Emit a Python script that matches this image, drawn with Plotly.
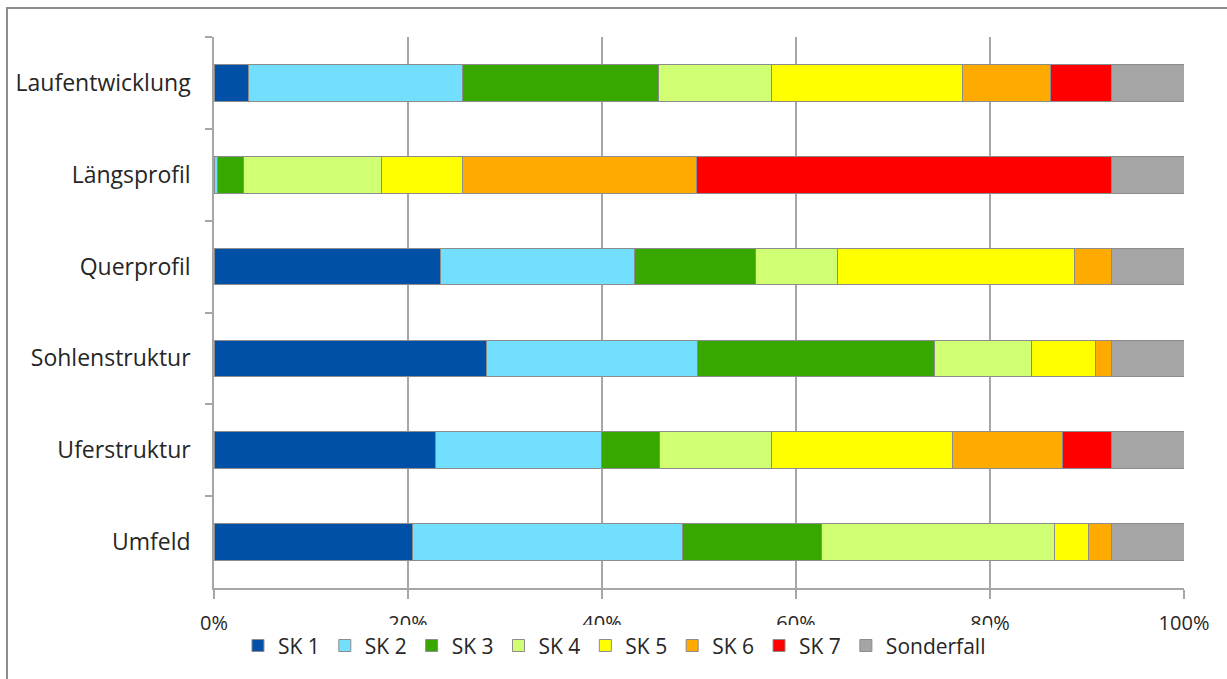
import plotly.graph_objects as go

categories = ["Laufentwicklung", "Längsprofil", "Querprofil", "Sohlenstruktur", "Uferstruktur", "Umfeld"]

series_names = ["SK 1", "SK 2", "SK 3", "SK 4", "SK 5", "SK 6", "SK 7", "Sonderfall"]

sk1 = [3.6, 0.0, 23.4, 28.1, 22.8, 20.5]
sk2 = [22.0, 0.35, 20.0, 21.7, 17.1, 27.8]
sk3 = [20.2, 2.65, 12.4, 24.5, 6.0, 14.3]
sk4 = [11.7, 14.3, 8.5, 10.0, 11.6, 24.0]
sk5 = [19.7, 8.3, 24.4, 6.6, 18.6, 3.6]
sk6 = [9.0, 24.1, 3.8, 1.6, 11.4, 2.3]
sk7 = [6.3, 42.8, 0.0, 0.0, 5.0, 0.0]
sonderfall = [7.5, 7.5, 7.5, 7.5, 7.5, 7.5]

series_values = [sk1, sk2, sk3, sk4, sk5, sk6, sk7, sonderfall]
series_colors = ["#0050A8", "#73DFFF", "#38A800", "#D1FF73", "#FFFF00", "#FFAA00", "#FF0000", "#A5A5A5"]

x_tick_values = [0, 20, 40, 60, 80, 100]
x_tick_labels = ["0%", "20%", "40%", "60%", "80%", "100%"]

FONT = "Open Sans"
GRID = "#A6A6A6"

fig = go.Figure()
for name, vals, col in zip(series_names, series_values, series_colors):
    fig.add_trace(go.Bar(
        y=categories, x=vals, name=name, orientation="h",
        marker=dict(color=col, line=dict(color="#8C8C8C", width=1)),
    ))

fig.update_layout(
    width=1227, height=679,
    barmode="stack", bargap=0.6,
    paper_bgcolor="white", plot_bgcolor="white",
    margin=dict(l=214, r=43, t=37, b=91),
    font=dict(family=FONT, size=20, color="#262626"),
    legend=dict(
        orientation="h", x=0.0247, y=-0.105, xanchor="left", yanchor="middle",
        font=dict(size=21), itemwidth=30, tracegroupgap=0,
        traceorder="normal",
    ),
    xaxis=dict(
        range=[0, 100], tickvals=x_tick_values, ticktext=x_tick_labels,
        showgrid=True, gridcolor=GRID, gridwidth=1.5,
        showline=True, linecolor=GRID, linewidth=1.5,
        ticks="outside", ticklen=9, tickcolor=GRID, tickwidth=1.5,
        ticklabelstandoff=7, zeroline=False, fixedrange=True,
        tickfont=dict(size=20),
    ),
    yaxis=dict(
        categoryorder="array", categoryarray=categories, autorange="reversed",
        showline=True, linecolor=GRID, linewidth=1.5,
        ticks="outside", ticklen=7, tickcolor=GRID, tickwidth=1.5,
        tickson="boundaries", showgrid=False, ticklabelstandoff=17,
        tickfont=dict(size=23),
    ),
    shapes=[dict(
        type="rect", xref="paper", yref="paper",
        x0=-0.2134, x1=1.2, y0=-0.3, y1=1.0526,
        line=dict(color="#8C8C8C", width=2), fillcolor="rgba(0,0,0,0)", layer="below",
    )],
)

fig.write_html("out.html")
